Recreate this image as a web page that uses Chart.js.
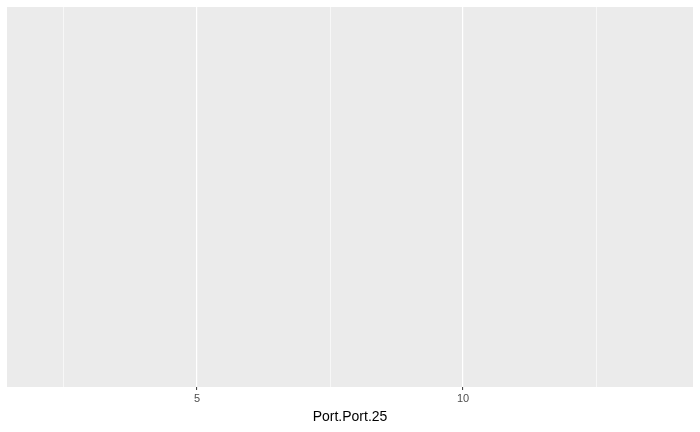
<!DOCTYPE html>
<html>
<head>
<meta charset="utf-8">
<script src="https://cdn.jsdelivr.net/npm/chart.js@4/dist/chart.umd.min.js"></script>
<style>
  html, body { margin: 0; padding: 0; background: #ffffff; }
  #wrap { width: 700px; height: 432px; }
</style>
</head>
<body>
<div id="wrap"><canvas id="chart"></canvas></div>
<script>
// x axis of an empty ggplot-style panel
var xTitle = "Port.Port.25";
var xMin = 1.43;
var xMax = 14.32;
var xStep = 2.5;
var xTickLabels = [5, 10];   // labelled (major) ticks
var xValues = [];            // no points in the reference
var yValues = [];

var panelBg = {
    id: 'panelBg',
    beforeDraw: function (chart) {
        var a = chart.chartArea;
        var ctx = chart.ctx;
        ctx.save();
        ctx.fillStyle = '#EBEBEB';
        ctx.fillRect(a.left, a.top, a.right - a.left, a.bottom - a.top);
        ctx.restore();
    }
};

function isMajor(v) {
    return xTickLabels.indexOf(v) !== -1;
}

var points = xValues.map(function (x, i) { return { x: x, y: yValues[i] }; });

new Chart(document.getElementById('chart').getContext('2d'), {
    type: 'scatter',
    data: {
        datasets: [{ data: points, pointRadius: 0 }]
    },
    options: {
        responsive: true,
        maintainAspectRatio: false,
        animation: false,
        layout: { padding: { left: 7, right: 7, top: 7, bottom: 6 } },
        plugins: {
            legend: { display: false },
            tooltip: { enabled: false }
        },
        scales: {
            x: {
                type: 'linear',
                min: xMin,
                max: xMax,
                afterBuildTicks: function (axis) {
                    var t = [];
                    for (var v = 2.5; v <= xMax; v += xStep) t.push({ value: v });
                    axis.ticks = t;
                },
                border: { display: false },
                grid: {
                    color: '#FFFFFF',
                    lineWidth: function (c) { return c.tick && isMajor(c.tick.value) ? 1.2 : 0.6; },
                    drawTicks: true,
                    tickLength: 3,
                    tickWidth: 1,
                    tickColor: function (c) { return c.tick && isMajor(c.tick.value) ? '#333333' : 'rgba(0,0,0,0)'; }
                },
                ticks: {
                    autoSkip: false,
                    maxRotation: 0,
                    padding: 2,
                    color: '#4D4D4D',
                    font: { family: 'Liberation Sans', size: 11 },
                    callback: function (v) { return isMajor(v) ? String(v) : ''; }
                },
                title: {
                    display: true,
                    text: xTitle,
                    color: '#000000',
                    font: { family: 'Liberation Sans', size: 14 },
                    padding: { top: 2, bottom: 0 }
                }
            },
            y: {
                display: false,
                min: 0,
                max: 1
            }
        }
    },
    plugins: [panelBg]
});
</script>
</body>
</html>
